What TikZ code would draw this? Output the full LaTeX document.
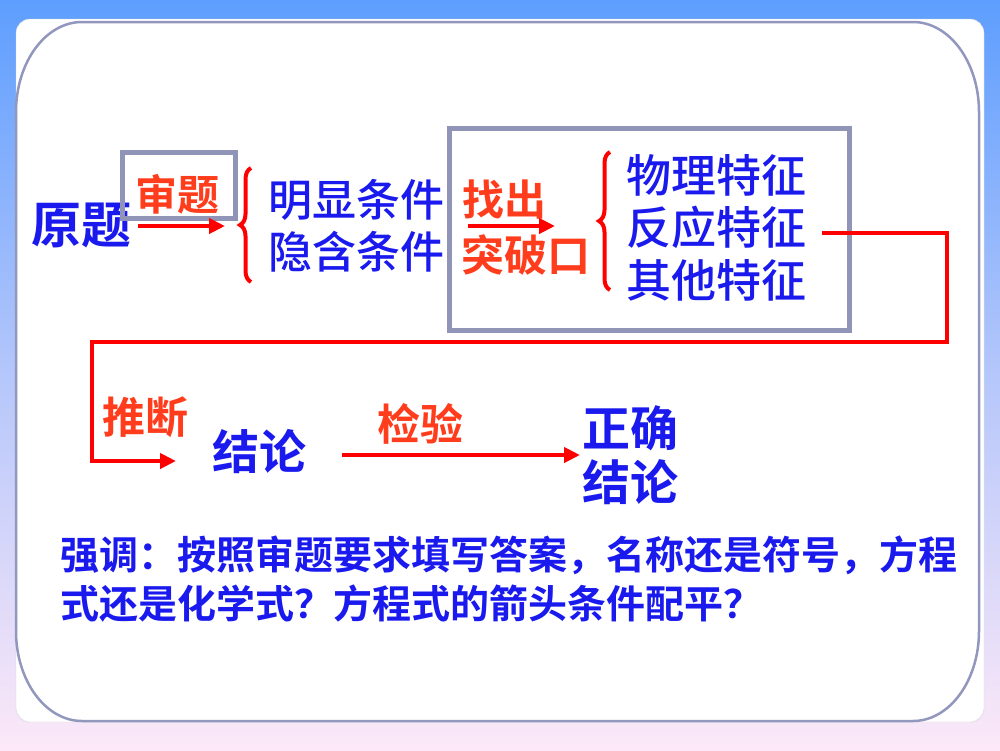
\documentclass[tikz,border=0pt]{standalone}
\usepackage{fontspec}
\usepackage{tikz}
\usetikzlibrary{arrows.meta}
\usetikzlibrary{decorations.pathreplacing}
\newfontfamily\cjk{Noto Sans CJK SC}[BoldFont={Noto Sans CJK SC Bold}]
\newfontfamily\cjkm{Noto Sans CJK SC Medium}
\definecolor{bgblue}{HTML}{5E9EFE}
\definecolor{bgpink}{HTML}{FCE8F8}
\definecolor{cardline}{HTML}{9297BE}
\definecolor{boxgray}{HTML}{9095B8}
\definecolor{tblue}{HTML}{1A1AEE}
\definecolor{tred}{HTML}{FF3C1C}
\definecolor{lred}{HTML}{FF0000}
\tikzset{
	bluebold/.style={text=tblue, inner sep=0pt, font=\cjk\bfseries\fontsize{#1}{#1}\selectfont},
	bluemid/.style={text=tblue, inner sep=0pt, font=\cjkm\fontsize{#1}{#1}\selectfont},
	redlabel/.style={text=tred, inner sep=0pt, font=\cjk\bfseries\fontsize{#1}{#1}\selectfont},
	graybox/.style={draw=boxgray, line width=5pt, inner sep=0pt},
	redline/.style={draw=lred, line width=4.5pt},
	redarrow/.style={redline, -{Triangle[length=16pt, width=15pt]}},
	redbrace/.style={draw=lred, line width=4pt, decorate, decoration={brace, amplitude=11pt}}
}

\begin{document}
\begin{tikzpicture}[x=1pt, y=-1pt]
			\useasboundingbox(0, 0)rectangle(1000, 750);
			% slide background and card
			\shade[top color=bgblue, bottom color=bgpink, middle color=bgblue!45!bgpink](0, 0)rectangle(1000, 750);
			\fill[white, draw=gray!35, rounded corners=14](16, 19)rectangle(984, 722);
			\draw[cardline, line width=2.5pt](16, 112)arc[start angle=180, end angle=270, x radius=66, y radius=90]
				--(913, 22)arc[start angle=270, end angle=360, x radius=66, y radius=90]
				--(979, 631)arc[start angle=0, end angle=90, x radius=66, y radius=90]
				--(82, 721)arc[start angle=90, end angle=180, x radius=66, y radius=90]--cycle;

			% first row
			\node[bluebold=50](yuanti)at(81, 225){原题};
			\node[graybox, minimum width=113, minimum height=66](shenbox)at(178.5, 185){};
			\node[redlabel=42](shenti)at(177, 194){审题};
			\coordinate(a1s)at(138, 226);
			\coordinate(a1e)at(225, 226);
			\draw[redarrow](a1s)--(a1e);
			\coordinate(br1b)at(251, 282);
			\coordinate(br1t)at(251, 168);
			\draw[redbrace](br1b)--(br1t);
			\node[bluemid=44](mingxian)at(356, 200){明显条件};
			\node[bluemid=44](yinhan)at(356, 252){隐含条件};

			\node[graybox, minimum width=400, minimum height=202](bigbox)at(649, 229){};
			\node[redlabel=42](zhaochu)at(504, 200){找出};
			\node[redlabel=43](tupo)at(526, 255){突破口};
			\coordinate(a2s)at(468, 226);
			\coordinate(a2e)at(555, 226);
			\draw[redarrow](a2s)--(a2e);
			\coordinate(br2b)at(610, 290);
			\coordinate(br2t)at(610, 152);
			\draw[redbrace](br2b)--(br2t);
			\node[bluemid=45](wuli)at(716, 175){物理特征};
			\node[bluemid=45](fanying)at(716, 227){反应特征};
			\node[bluemid=45](qita)at(716, 280){其他特征};

			% loop back to second row
			\coordinate(turnA)at(947, 342);
			\coordinate(turnB)at(92, 461);
			\coordinate(a3e)at(176, 461);
			\draw[redarrow]([shift={(16, 6)}]fanying.east)-|(turnA)-|(turnB)--(a3e);
			\node[redlabel=43](tuiduan)at(145, 417){推断};
			\node[bluebold=47](jielun)at(259, 452){结论};
			\node[redlabel=43](jianyan)at(420, 424){检验};
			\coordinate(a4s)at(342, 455);
			\coordinate(a4e)at(580, 455);
			\draw[redarrow](a4s)--(a4e);
			\node[bluebold=48](zhengque)at(630, 428){正确};
			\node[bluebold=48](jielun2)at(630, 482){结论};

			% remark
			\node[bluebold=39, anchor=west](note1)at(60, 555){强调：按照审题要求填写答案，名称还是符号，方程};
			\node[bluebold=39, anchor=west](note2)at(60, 604){式还是化学式？方程式的箭头条件配平？};
		\end{tikzpicture}
\end{document}
